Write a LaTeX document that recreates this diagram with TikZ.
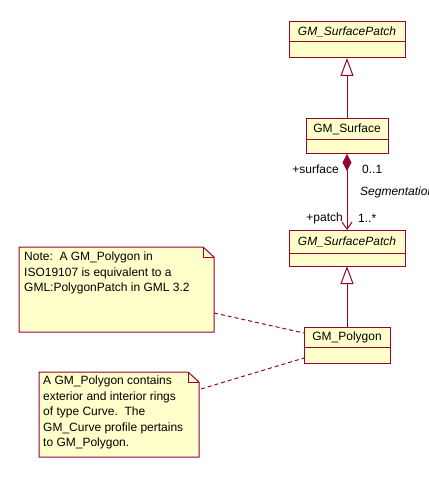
\documentclass[tikz,border=0pt]{standalone}
\usepackage{fontspec}
\setmainfont{Liberation Sans}
\usepackage{tikz}
\usetikzlibrary{arrows.meta, positioning}
\definecolor{umlred}{RGB}{153,0,51}
\definecolor{umlfill}{RGB}{255,255,204}
\newcommand\umlfont{\fontsize{12}{15.5}\selectfont}
\tikzset{
  classhead/.style={rectangle, draw=umlred, fill=umlfill, line width=1pt,
    inner sep=0pt, outer sep=0pt, anchor=north west, font=\umlfont},
  classbody/.style={rectangle, draw=umlred, fill=umlfill, line width=1pt,
    inner sep=0pt, outer sep=0pt},
  notebox/.style={draw=umlred, fill=umlfill, line width=1pt, line join=miter},
  notetext/.style={anchor=north west, inner sep=0pt, align=left, font=\umlfont},
  lbl/.style={inner sep=0pt, font=\umlfont},
  genarrow/.style={-{Triangle[open, length=18pt, width=13pt]}, draw=umlred, line width=1pt},
  compo/.style={{Diamond[length=17pt, width=9pt]}-{Straight Barb[length=7pt, width=10pt]},
    draw=umlred, line width=1pt},
  noteline/.style={draw=umlred, line width=1pt, dash pattern=on 4pt off 3pt}
}

\begin{document}
\begin{tikzpicture}[x=1pt, y=-1pt]
  \clip (0,0) rectangle (428,481);

  % Abstract parent patch
  \node[classhead, minimum width=116pt, minimum height=20pt] (patchtop) at (289,22) {\textit{GM\_SurfacePatch}};
  \node[classbody, below=0pt of patchtop, minimum width=116pt, minimum height=16pt] (patchtopb) {};

  % Surface
  \node[classhead, minimum width=82pt, minimum height=21pt] (surf) at (306,119) {GM\_Surface};
  \node[classbody, below=0pt of surf, minimum width=82pt, minimum height=14pt] (surfb) {};

  % Patch
  \node[classhead, minimum width=116pt, minimum height=23pt] (patch) at (289,230) {\textit{GM\_SurfacePatch}};
  \node[classbody, below=0pt of patch, minimum width=116pt, minimum height=13pt] (patchb) {};

  % Polygon
  \node[classhead, minimum width=86pt, minimum height=20pt] (poly) at (304,327) {GM\_Polygon};
  \node[classbody, below=0pt of poly, minimum width=86pt, minimum height=16pt] (polyb) {};

  % Inheritance
  \draw[genarrow] (surf.north) -- (patchtopb.south);
  \draw[genarrow] (poly.north) -- (patchb.south);

  % Segmentation
  \draw[compo] (surfb.south) -- (patch.north);
  \node[lbl, anchor=east] (rsurf) at (339,169) {+surface};
  \node[lbl, anchor=west] (msurf) at (362,169) {0..1};
  \node[lbl, anchor=west] (assoc) at (360,192) {\textit{Segmentation}};
  \node[lbl, anchor=east] (rpatch) at (343,218) {+patch};
  \node[lbl, anchor=west] (mpatch) at (358,218) {1..*};

  % Note on ISO 19107
  \draw[notebox] (19,247) -- (203,247) -- (214,257) -- (214,332) -- (19,332) -- cycle;
  \draw[notebox, fill=none] (203,247) -- (203,257) -- (214,257);
  \node[notetext] (note1) at (24,252) {Note:\ \ A GM\_Polygon in\\ISO19107 is equivalent to a\\GML:PolygonPatch in GML 3.2};

  % Note on rings
  \draw[notebox] (39,372) -- (188,372) -- (199,382) -- (199,457) -- (39,457) -- cycle;
  \draw[notebox, fill=none] (188,372) -- (188,382) -- (199,382);
  \node[notetext] (note2) at (43,376) {A GM\_Polygon contains\\exterior and interior rings\\of type Curve.\ \ The\\GM\_Curve profile pertains\\to GM\_Polygon.};

  % Note links
  \coordinate (n1) at (214,313);
  \coordinate (p1) at (304,333);
  \coordinate (n2) at (201,389);
  \coordinate (p2) at (304,358);
  \draw[noteline] (n1) -- (p1);
  \draw[noteline] (n2) -- (p2);
\end{tikzpicture}
\end{document}
